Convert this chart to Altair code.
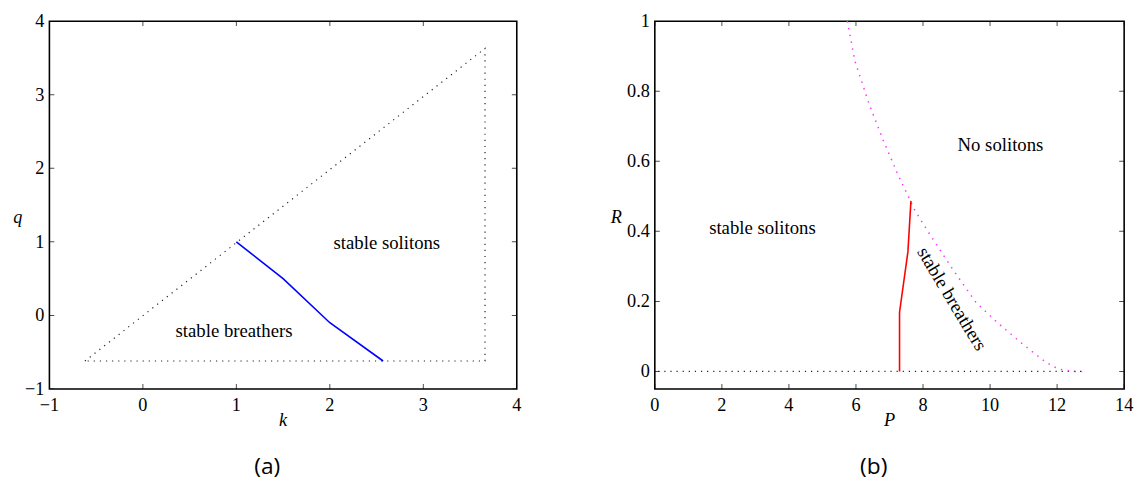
import altair as alt
import pandas as pd

# ---------------- data: panel (a) ----------------
tri_k = [-0.62, 3.66, 3.66, -0.62]
tri_q = [-0.62, 3.63, -0.62, -0.62]
blue_k = [1.0, 1.5, 2.0, 2.57]
blue_q = [1.0, 0.5, -0.1, -0.62]
a_lab_text = ["stable solitons", "stable breathers"]
a_lab_k = [2.61, 0.975]
a_lab_q = [0.99, -0.21]
a_ticks = [-1, 0, 1, 2, 3, 4]
a_tick_labels = ["\u22121", "0", "1", "2", "3", "4"]

# ---------------- data: panel (b) ----------------
mag_P = [5.74, 5.97, 6.39, 6.81, 7.27, 7.59, 7.76, 8.16, 8.89, 9.58, 10.26, 10.95, 11.64, 12.03, 12.52, 12.75]
mag_R = [1.0, 0.886, 0.764, 0.661, 0.558, 0.494, 0.459, 0.398, 0.291, 0.197, 0.136, 0.080, 0.028, 0.007, 0.0, 0.0]
zero_P = [0.1, 12.8]
zero_R = [0.0, 0.0]
red_P = [7.30, 7.30, 7.55, 7.64]
red_R = [0.0, 0.169, 0.342, 0.487]
b_lab_text = ["stable solitons", "No solitons"]
b_lab_P = [3.21, 10.31]
b_lab_R = [0.408, 0.647]
rot_text = ["stable breathers"]
rot_P = [8.86]
rot_R = [0.207]
b_xticks = [0, 2, 4, 6, 8, 10, 12, 14]
b_xtick_labels = ["0", "2", "4", "6", "8", "10", "12", "14"]
b_yticks = [0, 0.2, 0.4, 0.6, 0.8, 1.0]
b_ytick_labels = ["0", "0.2", "0.4", "0.6", "0.8", "1"]

SERIF = "Liberation Serif"
FS = 19
LFS = 18.5


def panel(xdom, ydom, xticks, xlabels, yticks, ylabels, xtitle, ytitle, ytitle_dx, caption, layers, w, h):
    xs = alt.Scale(domain=xdom, nice=False, zero=False)
    ys = alt.Scale(domain=ydom, nice=False, zero=False)
    X = lambda f: alt.X(f, scale=xs, axis=None)
    Y = lambda f: alt.Y(f, scale=ys, axis=None)
    xt = pd.DataFrame({"t": xticks, "lab": xlabels,
                       "lo": [ydom[0]] * len(xticks), "hi": [ydom[1]] * len(xticks)})
    yt = pd.DataFrame({"t": yticks, "lab": ylabels,
                       "lo": [xdom[0]] * len(yticks), "hi": [xdom[1]] * len(yticks)})
    tk = dict(size=10, thickness=1, color="black", clip=True)
    xmid = (xdom[0] + xdom[1]) / 2
    ymid = (ydom[0] + ydom[1]) / 2
    ttl = pd.DataFrame({"x": [xmid], "y": [ydom[0]], "xt": [xtitle], "cap": [caption],
                        "yx": [xdom[0]], "yy": [ymid], "yt": [ytitle]})
    guides = [
        alt.Chart(xt).mark_tick(orient="vertical", **tk).encode(x=X("t:Q"), y=Y("lo:Q")),
        alt.Chart(xt).mark_tick(orient="vertical", **tk).encode(x=X("t:Q"), y=Y("hi:Q")),
        alt.Chart(yt).mark_tick(orient="horizontal", **tk).encode(y=Y("t:Q"), x=X("lo:Q")),
        alt.Chart(yt).mark_tick(orient="horizontal", **tk).encode(y=Y("t:Q"), x=X("hi:Q")),
        alt.Chart(xt).mark_text(font=SERIF, fontSize=LFS, color="black", align="center",
                                baseline="middle", dy=16).encode(x=X("t:Q"), y=Y("lo:Q"), text="lab:N"),
        alt.Chart(yt).mark_text(font=SERIF, fontSize=LFS, color="black", align="right",
                                baseline="middle", dx=-5).encode(y=Y("t:Q"), x=X("lo:Q"), text="lab:N"),
        alt.Chart(ttl).mark_text(font=SERIF, fontSize=LFS, fontStyle="italic", color="black",
                                 align="center", baseline="middle", dy=32).encode(
            x=X("x:Q"), y=Y("y:Q"), text="xt:N"),
        alt.Chart(ttl).mark_text(font="Open Sans", fontSize=23, color="black",
                                 align="center", baseline="middle", dy=79, dx=-16).encode(
            x=X("x:Q"), y=Y("y:Q"), text="cap:N"),
        alt.Chart(ttl).mark_text(font=SERIF, fontSize=LFS, fontStyle="italic", color="black",
                                 align="center", baseline="middle", dy=12, dx=ytitle_dx).encode(
            x=X("yx:Q"), y=Y("yy:Q"), text="yt:N"),
    ]
    enc_layers = [l(X, Y) for l in layers]
    return alt.layer(*guides, *enc_layers).properties(width=w, height=h)


def mk_line(xs_, ys_, **kw):
    df = pd.DataFrame({"x": xs_, "y": ys_, "o": list(range(len(xs_)))})
    def f(X, Y):
        return alt.Chart(df).mark_line(**kw).encode(x=X("x:Q"), y=Y("y:Q"), order="o:Q")
    return f


def mk_text(xs_, ys_, texts, **kw):
    df = pd.DataFrame({"x": xs_, "y": ys_, "t": texts})
    def f(X, Y):
        return alt.Chart(df).mark_text(font=SERIF, fontSize=FS, color="black",
                                       align="center", baseline="middle", **kw).encode(
            x=X("x:Q"), y=Y("y:Q"), text="t:N")
    return f


dot = dict(strokeDash=[1.2, 5], strokeWidth=1.2, color="#222222")

left = panel([-1, 4], [-1, 4], a_ticks, a_tick_labels, a_ticks, a_tick_labels, "k", "q", -32, "(a)", [
    mk_line(tri_k, tri_q, **dot),
    mk_line(blue_k, blue_q, color="#0000ff", strokeWidth=1.6),
    mk_text(a_lab_k, a_lab_q, a_lab_text),
], 474, 373)

right = panel([0, 14], [-0.05, 1], b_xticks, b_xtick_labels, b_yticks, b_ytick_labels, "P", "R", -39, "(b)", [
    mk_line(zero_P, zero_R, **dot),
    mk_line(mag_P, mag_R, strokeDash=[1.5, 5.5], strokeWidth=1.5, color="#ff33ff"),
    mk_line(red_P, red_R, color="#ff0000", strokeWidth=1.6),
    mk_text(b_lab_P, b_lab_R, b_lab_text),
    mk_text(rot_P, rot_R, rot_text, angle=59),
], 476, 373)

chart = alt.hconcat(left, right, spacing=88).configure_view(
    stroke="black", strokeWidth=1.6
).properties(padding={"left": 4, "top": 0, "right": 0, "bottom": 0}, background="white")

chart.save("out.html", embed_options={"renderer": "svg", "actions": False})
